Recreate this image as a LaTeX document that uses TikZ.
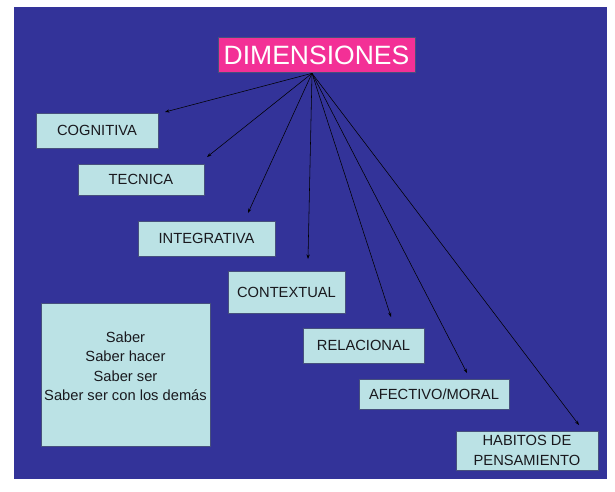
\documentclass[tikz,border=0pt]{standalone}
\usepackage{fontspec}
\setmainfont{Liberation Sans}
\usetikzlibrary{arrows.meta,calc}
\definecolor{bgblue}{RGB}{51,51,153}
\definecolor{boxfill}{RGB}{187,226,229}
\definecolor{boxline}{RGB}{70,80,125}
\definecolor{pinkfill}{RGB}{243,48,150}
\definecolor{txtdark}{RGB}{25,25,30}
\begin{document}
\begin{tikzpicture}[x=1pt,y=-1pt,
  dimbox/.style={rectangle,draw=boxline,line width=0.6pt,inner sep=0pt,fill=boxfill,
    text=txtdark,font=\fontsize{14.7}{19.5}\selectfont,align=center},
  titlebox/.style={rectangle,draw=boxline,line width=0.6pt,inner sep=0pt,fill=pinkfill,
    text=white,font=\fontsize{26.5}{30}\selectfont,text height=19pt,text depth=0pt,
    minimum width=197pt,minimum height=35pt},
  conn/.style={draw=black,line width=0.55pt,-{Stealth[length=4.5pt,width=3.2pt]}}]
\useasboundingbox (0,0) rectangle (615,491);
\fill[white] (0,0) rectangle (615,491);
\fill[bgblue] (14,7) rectangle (607,479);

\node[titlebox] (dim) at (316.5,54.5) {DIMENSIONES};

\node[dimbox,minimum width=122pt,minimum height=35pt,text height=10.5pt,text depth=0pt] (cog) at (97,130.5) {COGNITIVA};
\node[dimbox,minimum width=126pt,minimum height=31pt,text height=10.5pt,text depth=0pt] (tec) at (141,179.5) {TECNICA};
\node[dimbox,minimum width=137pt,minimum height=35pt,text height=10.5pt,text depth=0pt] (int) at (206.5,238.5) {INTEGRATIVA};
\node[dimbox,minimum width=117pt,minimum height=42pt,text height=10.5pt,text depth=0pt] (con) at (286.5,292) {CONTEXTUAL};
\node[dimbox,minimum width=121pt,minimum height=35pt,text height=10.5pt,text depth=0pt] (rel) at (363.5,345.5) {RELACIONAL};
\node[dimbox,minimum width=150pt,minimum height=30pt,text height=10.5pt,text depth=0pt] (afe) at (434,394) {AFECTIVO/MORAL};
\node[dimbox,minimum width=142pt,minimum height=39pt] (hab) at (527,450.5) {HABITOS DE\\PENSAMIENTO};

\node[dimbox,minimum width=169pt,minimum height=143pt] (sab) at (125.5,374.5) {};
\node[text=txtdark,font=\fontsize{14.7}{19.5}\selectfont,align=center,inner sep=0pt] (sabtxt)
  at ($(sab.center)+(0,-8.5)$) {Saber\\Saber hacer\\Saber ser\\Saber ser con los demás};

\coordinate (src) at ($(dim.south)+(-4.5,1)$);
\coordinate (tcog) at (165,112);
\coordinate (ttec) at (207,157);
\coordinate (tint) at (248,213);
\coordinate (tcon) at (308,259);
\coordinate (trel) at (391,317);
\coordinate (tafe) at (467,373);
\coordinate (thab) at (579,425);

\foreach \t in {tcog,ttec,tint,tcon,trel,tafe,thab}
  \draw[conn] (src) -- (\t);
\end{tikzpicture}
\end{document}
